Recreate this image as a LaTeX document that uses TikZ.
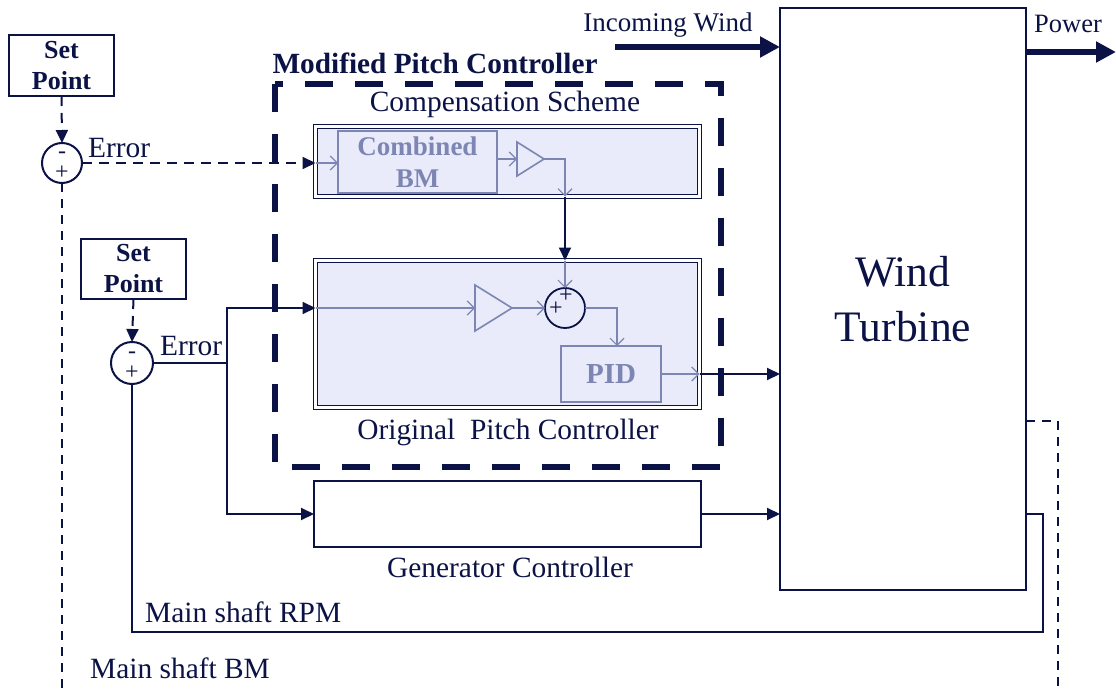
\documentclass[tikz,border=0pt]{standalone}
\usepackage{fontspec}
\setmainfont{Liberation Serif}
\usetikzlibrary{arrows.meta,calc}
\definecolor{dk}{HTML}{0B1245}
\definecolor{lt}{HTML}{7D86B3}
\definecolor{fl}{HTML}{E9EBFA}
\begin{document}
\begin{tikzpicture}[x=1pt,y=-1pt,
  txt/.style={font=\fontsize{29.4}{31}\selectfont, text=dk, inner sep=0pt},
  btxt/.style={font=\bfseries\fontsize{29.3}{31}\selectfont, text=dk, inner sep=0pt},
  spbox/.style={draw=dk, line width=2pt, minimum width=105pt, minimum height=61pt, inner sep=0pt, outer sep=0pt, align=center, font=\bfseries\fontsize{26}{31}\selectfont, text=dk},
  sumc/.style={circle, draw=dk, line width=2pt, minimum size=40pt, inner sep=0pt, outer sep=0pt},
  sgn/.style={font=\fontsize{24}{24}\selectfont, text=dk, inner sep=0pt},
  dbox/.style={draw=dk, line width=1.4pt, double=white, double distance=2.2pt, fill=fl, inner sep=0pt, outer sep=0pt},
  lbox/.style={draw=lt, line width=1.5pt, inner sep=0pt, outer sep=0pt, text=lt, font=\bfseries\fontsize{27}{32}\selectfont, align=center},
  dkline/.style={draw=dk, line width=2pt},
  dkarr/.style={dkline, -{Triangle[length=13pt,width=12pt]}},
  ltarr/.style={draw=lt, line width=1.2pt, -{Straight Barb[length=7pt,width=14pt,line width=1.2pt]}},
  bigarr/.style={draw=dk, line width=6pt, -{Triangle[length=20pt,width=20pt]}},
  fdash/.style={dash pattern=on 9pt off 7pt}
]
\useasboundingbox (0,0) rectangle (1116,693);

% boxes
\node[spbox] (sp1) at (61.5,65.5) {Set\\Point};
\node[sumc] (s1) at (62,163) {};
\node[sgn] at (62,155) {-};
\node[sgn] at (62,173) {+};
\node[txt, anchor=west] (e1) at (88,148) {Error};

\node[spbox, minimum height=60pt] (sp2) at (133.5,269) {Set\\Point};
\node[sumc, minimum size=42pt] (s2) at (132,363) {};
\node[sgn] at (132,355) {-};
\node[sgn] at (132,373) {+};
\node[txt, anchor=west] (e2) at (160,346) {Error};

\draw[dk, line width=6pt, dash pattern=on 28pt off 22pt] (275,84) rectangle (721,467);
\node[btxt] (mpc) at (435,63) {Modified Pitch Controller};
\node[txt] (csl) at (505,104) {Compensation Scheme};

\node[dbox, minimum width=384pt, minimum height=70pt] (comp) at (507.5,161.5) {};
\node[lbox, minimum width=159pt, minimum height=62pt] (cbm) at (417.5,162) {Combined\\BM};
\draw[lt, line width=1.6pt] (517,142) -- (544,159) -- (517,176) -- cycle;
\coordinate (t1i) at (517,159);
\coordinate (t1o) at (544,159);
\coordinate (j1) at (565,159);

\node[dbox, minimum width=384pt, minimum height=147pt] (orig) at (507.5,334) {};
\node[txt] (opl) at (508,432) {Original\ \ Pitch Controller};
\draw[lt, line width=1.6pt] (475,285) -- (512,308) -- (475,331) -- cycle;
\coordinate (t2i) at (475,308);
\coordinate (t2o) at (512,308);
\node[sumc, line width=1.8pt] (s3) at (565,308) {};
\node[sgn] at (566,296) {+};
\node[sgn] at (556,309) {+};
\node[lbox, minimum width=100pt, minimum height=56pt, font=\bfseries\fontsize{29}{32}\selectfont] (pid) at (611,374) {PID};
\coordinate (j2) at (617,308);

\node[draw=dk, line width=1.8pt, minimum width=387pt, minimum height=66pt, inner sep=0pt, outer sep=0pt] (gen) at (507.5,514) {};
\node[txt] (gcl) at (510,567) {Generator Controller};

\node[draw=dk, line width=2pt, minimum width=246pt, minimum height=582pt, inner sep=0pt, outer sep=0pt, align=center, text=dk, font=\fontsize{43.5}{55}\selectfont] (wt) at (903,299) {Wind\\Turbine};

\node[txt, font=\fontsize{27}{30}\selectfont] (iw) at (668,25) {Incoming Wind};
\node[txt, anchor=west, font=\fontsize{26.5}{30}\selectfont] (pw) at (1034,24) {Power};
\node[txt, anchor=west] (rpm) at (145,612) {Main shaft RPM};
\node[txt, anchor=west] (bm) at (90,668) {Main shaft BM};

% connectors
\draw[dkarr, dash pattern=on 10pt off 7pt] (sp1.south) -- (s1.north);
\draw[dkarr, dash pattern=on 10pt off 7pt] (s1.east) -- (s1.east -| comp.west);
\draw[ltarr] (s1.east -| comp.west) -- (s1.east -| cbm.west);
\draw[dkline, fdash] (s1.south) -- (62,693);

\draw[ltarr] (t1i -| cbm.east) -- (t1i);
\draw[ltarr] (t1o) -- (j1) -- (j1 |- comp.south);
\draw[dkarr] (j1 |- comp.south) -- (j1 |- orig.north);
\draw[ltarr] (j1 |- orig.north) -- (s3.north);

\draw[dkarr, dash pattern=on 10pt off 7pt] (sp2.south) -- (s2.north);
\coordinate (br) at (227,363);
\coordinate (bt) at (227,308);
\coordinate (bb) at (227,514);
\draw[dkline] (s2.east) -- (br);
\draw[dkarr] (br) -- (bt) -- (bt -| orig.west);
\draw[dkarr] (br) -- (bb) -- (bb -| gen.west);
\draw[ltarr] (bt -| orig.west) -- (t2i);
\draw[ltarr] (t2o) -- (s3.west);
\draw[ltarr] (s3.east) -- (j2) -- (j2 |- pid.north);
\draw[ltarr] (pid.east) -- (pid.east -| orig.east);
\draw[dkarr] (pid.east -| orig.east) -- (pid.east -| wt.west);
\draw[dkarr] (gen.east) -- (gen.east -| wt.west);

\coordinate (f1) at (1043,514);
\coordinate (f2) at (1043,632);
\coordinate (f3) at (132,632);
\draw[dkline] (f1 -| wt.east) -- (f1) -- (f2) -- (f3) -- (s2.south);
\coordinate (d1) at (1058,421);
\coordinate (d2) at (1058,693);
\draw[dkline, fdash] (d1 -| wt.east) -- (d1) -- (d2);

\coordinate (w0) at (615,47);
\draw[bigarr] (w0) -- (w0 -| wt.west);
\coordinate (p1) at (1116,52);
\draw[bigarr] (p1 -| wt.east) -- (p1);
\end{tikzpicture}
\end{document}
